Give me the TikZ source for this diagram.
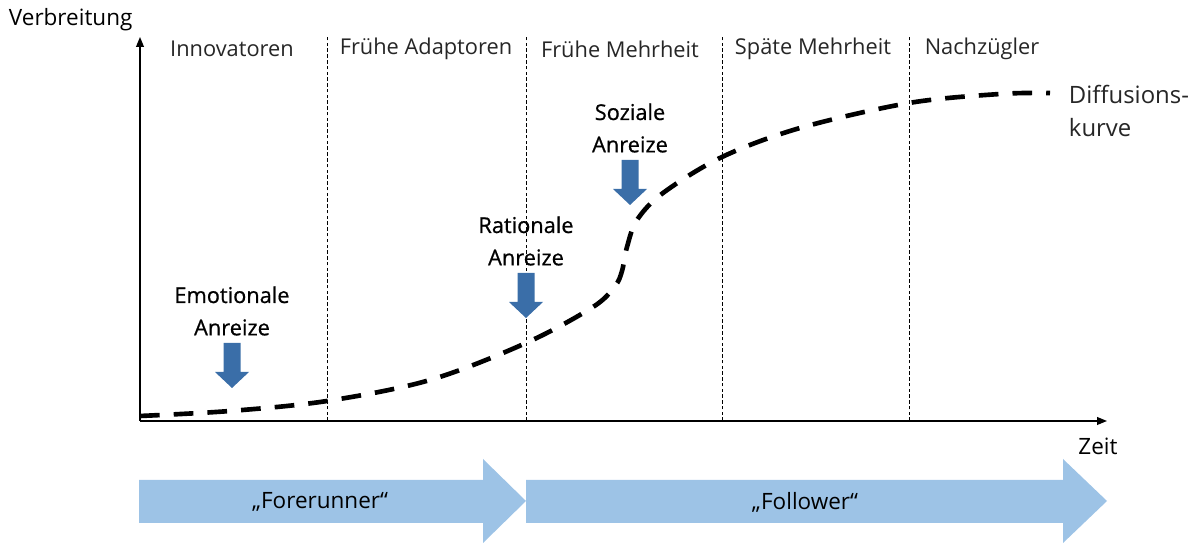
\documentclass[tikz,border=0pt]{standalone}
\usepackage{fontspec}
\setmainfont{Open Sans}
\newfontfamily\semib[FakeBold=0.7]{Open Sans}
\usetikzlibrary{positioning,calc,arrows.meta}
\definecolor{pushc}{HTML}{3A6EA8}
\definecolor{phasec}{HTML}{9DC3E6}
\tikzset{
  pusharrow/.pic={\fill[pushc] (-8.5,0) -- (8.5,0) -- (8.5,-29) -- (17,-29) -- (0,-45) -- (-17,-29) -- (-8.5,-29) -- cycle;}
}

\begin{document}
\begin{tikzpicture}[x=0.025cm, y=0.025cm,
  axis/.style={line width=0.9pt, -{Triangle[length=7pt, width=5.5pt]}},
  divider/.style={line width=0.5pt, dash pattern=on 2.5pt off 1.6pt},
  phase/.style={font=\fontsize{15.5}{17}\selectfont, text=black!85},
  lbl/.style={font=\semib\fontsize{15.5}{23}\selectfont, align=center},
  curve/.style={line width=3.3pt, dash pattern=on 14pt off 10pt},
  bigarrow/.style={fill=phasec}]
  \useasboundingbox (0,0) rectangle (1199,543);

  % axes
  \coordinate (O) at (140,122);
  \coordinate (ytop) at (140,506);
  \coordinate (xend) at (1107,122);
  \draw[axis] (O) -- (ytop);
  \draw[axis] (O) -- (xend);
  \node[font=\fontsize{16}{18}\selectfont, anchor=west] (yl) at (4,523) {Verbreitung};
  \node[font=\fontsize{16}{18}\selectfont] (xl) at (1098,97) {Zeit};

  % phases
  \foreach \x in {327,526,722,909}
    \draw[divider] (\x,122) -- (\x,506);
  \foreach \x/\n/\t in {232/inno/Innovatoren, 426/early/Frühe Adaptoren, 620/emaj/Frühe Mehrheit,
                        813/lmaj/Späte Mehrheit, 982/lag/Nachzügler}
    \node[phase] (\n) at (\x,494) {\t};

  % diffusion curve
  \draw[curve] plot[smooth, tension=0.55] coordinates {(140,127) (230,132) (327,142) (430,163) (526,200)
    (593,236) (615,257) (622,272) (627,296) (637,323) (663,350) (722,386) (800,415) (909,440) (1000,449) (1050,450)};
  \node[phase, anchor=west, align=left, font=\fontsize{17}{24}\selectfont] (dk) at (1064,432) {Diffusions-\\kurve};

  % incentives
  \node[lbl] (emo) at (232,232) {Emotionale\\Anreize};
  \pic at (232,200) {pusharrow};
  \node[lbl] (rat) at (526,302) {Rationale\\Anreize};
  \pic at (526,270) {pusharrow};
  \node[lbl] (soz) at (630,415) {Soziale\\Anreize};
  \pic at (630,383) {pusharrow};

  % forerunner / follower
  \fill[bigarrow] (139,63) -- (483,63) -- (483,84) -- (526,42) -- (483,0) -- (483,20) -- (139,20) -- cycle;
  \fill[bigarrow] (526,63) -- (1063,63) -- (1063,84) -- (1107,42) -- (1063,0) -- (1063,20) -- (526,20) -- cycle;
  \node[font=\fontsize{16}{18}\selectfont] (fore) at (320,41) {„Forerunner“};
  \node[font=\fontsize{16}{18}\selectfont] (foll) at (805,41) {„Follower“};
\end{tikzpicture}
\end{document}
